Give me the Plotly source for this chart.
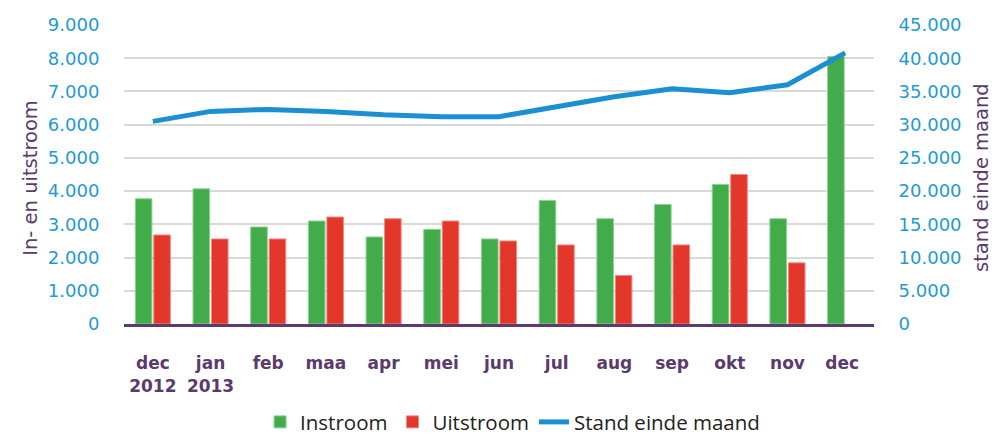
import plotly.graph_objects as go

categories = ["dec<br>2012", "jan<br>2013", "feb", "maa", "apr", "mei", "jun",
              "jul", "aug", "sep", "okt", "nov", "dec "]
instroom = [3770, 4070, 2920, 3100, 2620, 2850, 2560, 3720, 3170, 3600, 4200, 3170, 8050]
uitstroom = [2680, 2560, 2560, 3220, 3170, 3100, 2500, 2380, 1460, 2380, 4500, 1840, None]
stand = [30500, 32000, 32300, 32000, 31500, 31200, 31200, 32700, 34200, 35400, 34800, 36000, 40800]

left_ticks = list(range(0, 9001, 1000))
right_ticks = list(range(0, 45001, 5000))

blue = "#1e9ad6"
purple = "#5b3a6e"

fig = go.Figure()
fig.add_trace(go.Bar(x=categories, y=instroom, name="Instroom",
                     marker=dict(color="#41ac49", line=dict(color="#8fd095", width=1))))
fig.add_trace(go.Bar(x=categories, y=uitstroom, name="Uitstroom",
                     marker=dict(color="#e2372a", line=dict(color="#f08a80", width=1))))
fig.add_trace(go.Scatter(x=categories, y=stand, name="Stand einde maand", mode="lines",
                         yaxis="y2", line=dict(color="#1b8fd2", width=5)))

fig.update_layout(
    width=1005, height=436,
    margin=dict(l=124, r=131, t=25, b=112, autoexpand=False),
    paper_bgcolor="white", plot_bgcolor="white",
    separators=",.",
    barmode="group", bargap=0.36, bargroupgap=0.1,
    font=dict(family="DejaVu Sans", color=purple),
    showlegend=True,
    legend=dict(orientation="h", x=0.51, xanchor="center", xref="container",
                y=0.032, yanchor="middle", yref="container",
                font=dict(family="Open Sans", size=20.5, color="#222222"),
                traceorder="normal"),
    xaxis=dict(showline=True, linecolor=purple, linewidth=3, showgrid=False,
               ticks="outside", ticklen=22, tickcolor="rgba(0,0,0,0)", automargin=False,
               tickfont=dict(family="DejaVu Sans", size=17, color=purple, weight="bold")),
    yaxis=dict(range=[0, 9000], tickvals=left_ticks, tickformat=",d", automargin=False,
               showgrid=True, gridcolor="#d9d9d9", gridwidth=2, zeroline=False,
               tickfont=dict(size=18, color=blue), ticks="outside", ticklen=20,
               tickcolor="rgba(0,0,0,0)"),
    yaxis2=dict(range=[0, 45000], tickvals=right_ticks, tickformat=",d", overlaying="y",
                side="right", showgrid=False, zeroline=False, automargin=False,
                tickfont=dict(size=18, color=blue), ticks="outside", ticklen=20,
                tickcolor="rgba(0,0,0,0)"),
    annotations=[
        dict(text="In- en uitstroom", xref="paper", yref="paper", x=-0.143, y=0.49,
             textangle=-90, showarrow=False, font=dict(size=19.5, color=purple)),
        dict(text="stand einde maand", xref="paper", yref="paper", x=1.1613, y=0.49,
             textangle=-90, showarrow=False, font=dict(size=19.5, color=purple)),
    ],
)

fig.write_html("out.html", config={"displayModeBar": False})

# remove the browser's default page margin so the figure fills the window exactly
with open("out.html", encoding="utf-8") as f:
    html = f.read()
html = html.replace("<head>", "<head><style>html,body{margin:0;padding:0;overflow:hidden;}</style>", 1)
with open("out.html", "w", encoding="utf-8") as f:
    f.write(html)
